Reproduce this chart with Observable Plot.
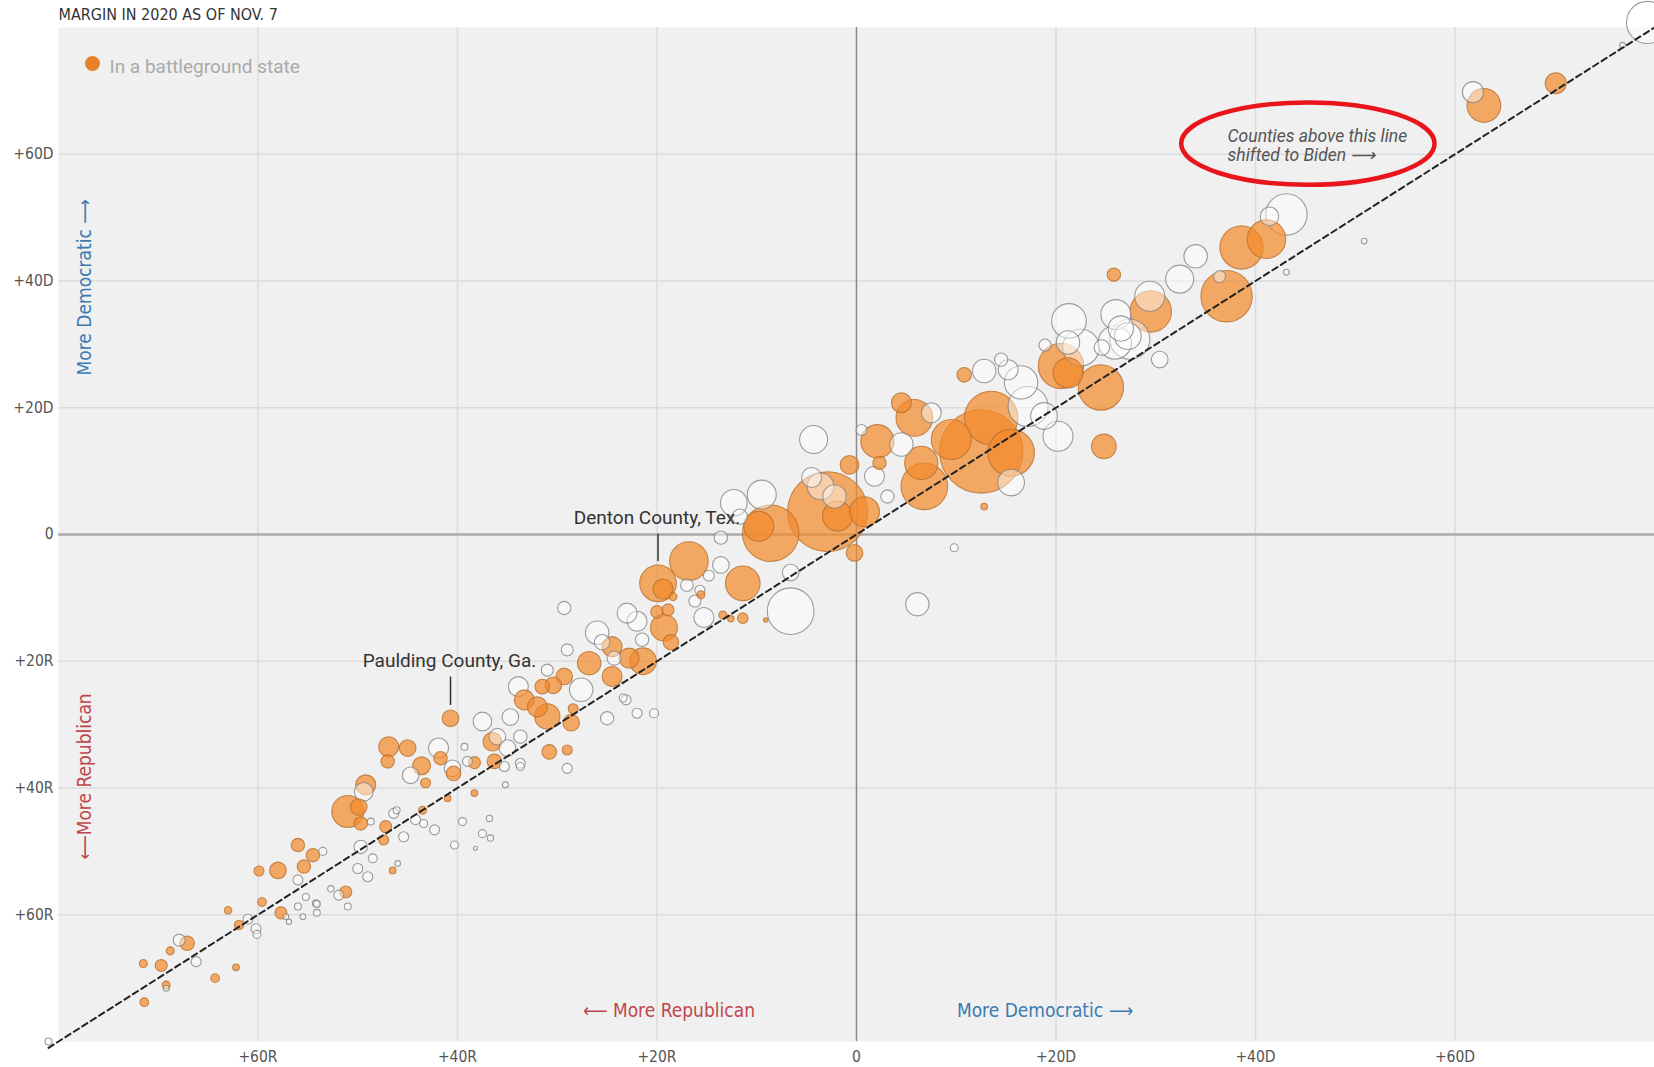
<!DOCTYPE html>
<html><head><meta charset="utf-8">
<script src="https://cdn.jsdelivr.net/npm/d3@7"></script>
<script src="https://cdn.jsdelivr.net/npm/@observablehq/plot@0.6"></script>
<style>
body{margin:0;background:#fff;}
#chart svg{display:block;}
</style></head><body><div id="chart"></div>
<script>
const title = "MARGIN IN 2020 AS OF NOV. 7";
const legendLabel = "In a battleground state";
const tickValues = [-60, -40, -20, 0, 20, 40, 60];
const xTickLabels = ["+60R", "+40R", "+20R", "0", "+20D", "+40D", "+60D"];
const yTickLabels = ["+60R", "+40R", "+20R", "0", "+20D", "+40D", "+60D"];

// Battleground-state counties: 2016 margin (x), 2020 margin (y), votes (thousands, approx.)
const bg2016 = [70.1,62.9,41.1,38.6,37.1,25.8,29.5,20.5,21.2,24.5,24.8,10.8,12.5,13.5,15.5,9.5,6.8,6.5,5.8,4.5,2.1,2.3,-0.7,-2.9,-1.9,0.8,-8.6,-9.8,-0.2,12.8,-19.9,-19.4,-16.8,-11.4,-15.6,-13.4,-11.4,-9.1,-18.9,-19.3,-20.0,-21.4,-24.5,-24.5,-26.8,-22.8,-18.6,-29.3,-31.5,-30.4,-33.3,-32.0,-31.0,-28.6,-28.4,-30.8,-29.0,-40.7,-36.5,-36.3,-38.3,-41.7,-40.4,-43.6,-38.3,-41.0,-43.5,-43.2,-46.9,-45.0,-47.0,-51.0,-49.9,-49.2,-49.7,-47.2,-47.4,-46.5,-51.2,-54.5,-55.4,-56.0,-58.0,-59.9,-59.6,-57.7,-61.9,-63.0,-67.1,-68.8,-69.7,-71.5,-62.2,-64.3,-69.2,-71.4,-12.6,-18.4];
const bg2020 = [71.2,67.7,46.6,45.3,37.6,41.0,35.2,26.6,25.5,23.2,13.9,25.2,13.1,18.4,12.9,15.0,7.6,11.3,18.4,20.8,14.7,11.3,11.0,3.6,2.9,3.6,0.2,1.3,-2.9,4.4,-7.7,-8.6,-4.2,-7.7,-9.5,-12.7,-13.2,-13.5,-11.9,-14.7,-12.2,-20.0,-17.7,-22.4,-20.3,-19.5,-17.0,-22.4,-24.0,-23.8,-26.1,-27.2,-28.7,-29.7,-27.5,-34.3,-34.0,-29.0,-32.7,-35.8,-36.0,-35.3,-37.7,-36.5,-40.8,-41.6,-43.5,-39.2,-33.5,-33.7,-35.8,-43.7,-43.0,-39.5,-45.6,-46.1,-48.2,-53.0,-56.4,-50.6,-52.4,-49.0,-53.0,-53.1,-58.0,-59.7,-61.6,-59.3,-64.5,-65.7,-68.0,-67.7,-68.3,-70.0,-71.1,-73.8,-13.3,-9.8];
const bgVotes = [111,285,373,470,660,45,428,514,225,514,152,53,1736,711,544,400,544,278,336,100,278,44,87,1600,225,225,800,225,69,11,336,100,373,300,16,16,28,5,36,180,40,178,100,100,137,100,60,69,53,69,100,100,160,69,25,53,25,69,87,53,36,45,53,80,11,11,16,25,100,69,45,256,69,100,45,36,25,11,36,45,45,45,69,25,19,36,22,14,53,16,36,16,11,19,16,19,10,16];

// Other counties
const other2016 = [79.3,76.8,61.8,43.1,41.4,50.9,43.1,36.4,34.0,32.4,26.0,21.3,27.4,26.5,30.4,22.5,18.9,29.4,24.6,20.2,16.5,17.2,12.8,15.2,14.5,18.8,15.5,9.8,6.1,4.5,1.8,-4.3,-9.5,-12.3,-11.7,-13.6,-13.6,-6.6,-6.6,-15.3,-15.7,-29.3,-26.0,-22.0,-23.0,-29.0,-27.6,-33.9,-34.7,-37.5,-36.0,-33.7,-35.0,-33.7,-41.9,-25.0,-23.1,-22.0,-20.3,-29.0,-31.0,-23.4,-39.3,-39.0,-35.3,-33.7,-35.2,-39.5,-37.5,-36.7,-36.8,-38.2,-40.3,-42.3,-44.2,-43.4,-46.4,-46.1,-48.7,-45.4,-46.0,-49.7,-49.0,-50.0,-48.5,-51.0,-51.9,-52.7,-53.5,-54.2,-55.2,-56.0,-54.1,-54.1,-56.0,-55.5,-57.2,-56.9,-44.7,-40.5,-49.4,-61.0,-60.2,-60.1,-66.2,-67.9,-69.2,-81.0,-3.6,-2.2,-4.5,3.1,7.5,21.2,25.9,27.2,0.5,-17.0,-14.8,-25.5,-24.3,-21.5,-16.2];
const other2020 = [80.8,77.2,69.8,50.5,50.2,46.3,41.4,40.7,43.9,40.3,34.7,33.7,30.8,32.5,27.6,29.5,29.9,37.6,29.5,15.5,24.0,20.2,25.8,26.0,27.6,18.7,8.2,-2.1,-11.0,14.2,9.2,15.0,6.3,5.0,2.8,-0.5,-4.8,-12.1,-6.0,-13.1,-8.8,-11.6,-15.5,-13.7,-12.4,-18.2,-24.5,-24.0,-28.8,-29.5,-31.9,-31.9,-33.7,-36.1,-33.7,-29.0,-26.1,-28.2,-28.2,-36.9,-21.4,-25.8,-33.5,-35.8,-36.6,-36.6,-39.5,-45.3,-47.2,-47.9,-44.8,-49.5,-49.0,-46.6,-45.0,-45.6,-44.0,-43.5,-45.3,-47.7,-51.9,-49.3,-54.0,-52.7,-51.1,-58.7,-56.9,-55.9,-50.0,-58.2,-57.2,-54.5,-58.3,-59.7,-58.7,-60.3,-60.3,-61.1,-38.0,-36.9,-40.6,-60.7,-62.2,-63.1,-67.4,-64.0,-71.6,-80.0,7.6,6.0,9.0,6.0,19.2,30.3,30.3,31.3,16.5,-8.0,-6.5,-17.0,-19.5,-16.6,-10.5];
const otherVotes = [444,8,111,428,87,8,8,36,137,196,225,300,400,160,69,336,36,225,60,225,278,400,137,100,44,178,178,16,135,137,100,196,210,178,60,44,69,544,69,100,25,44,137,100,100,36,137,100,69,87,69,45,69,25,100,44,25,25,20,25,36,16,12,25,25,16,9,16,16,10,10,4,16,25,25,16,25,12,12,25,8,45,25,25,20,12,25,10,16,12,12,25,12,12,12,8,8,7,69,69,87,25,25,16,25,36,9,12,178,137,100,44,100,137,278,178,30,40,30,60,50,45,36];

const diagonalEnds = [-81, 80];
const sideLabelText = ["\u27F5 More Republican", "More Democratic \u27F6"];
const sideLabelX = [-18.8, 18.9];
const sideLabelY = [-75.2, -75.2];
const vertLabelText = ["More Democratic \u27F6", "\u27F5More Republican"];
const vertLabelX = [-77.4, -77.4];
const vertLabelY = [39, -38.2];
const countyNames = ["Denton County, Tex.", "Paulding County, Ga."];
const countyLabelX = [-20, -40.8];
const countyLabelY = [2.65, -20];
const leaderX = [-19.9, -40.7];
const leaderTop = [0.1, -22.4];
const leaderBottom = [-4.2, -26.9];
const noteText = "Counties above this line\nshifted to Biden \u27F6";
const noteX = 37.2, noteY = 61.4;
const ellipseCenter = [45.3, 61.6];
const ellipseRadii = [12.7, 6.5];

const counties = [
  ...other2016.map((x, i) => ({m16: x, m20: other2020[i], votes: otherVotes[i], fill: "#ffffff", stroke: "#858585", fo: 0.45})),
  ...bg2016.map((x, i) => ({m16: x, m20: bg2020[i], votes: bgVotes[i], fill: "#f28a2c", stroke: "#b8702f", fo: 0.72}))
];

const narrow = "'Liberation Sans Narrow', 'DejaVu Sans Condensed', 'Arial Narrow', sans-serif";
const regular = "Roboto, 'Liberation Sans', sans-serif";

const chart = Plot.plot({
  width: 1654, height: 1067,
  marginLeft: 58, marginRight: 0, marginTop: 27, marginBottom: 26,
  x: {domain: [-80, 80]},
  y: {domain: [-80, 80]},
  r: {type: "sqrt", domain: [0, 1600], range: [0, 40]},
  color: {type: "identity"},
  opacity: {type: "identity"},
  style: {fontFamily: narrow, background: "#fff", overflow: "visible"},
  marks: [
    Plot.frame({fill: "#f0f0f0", stroke: "none"}),
    Plot.gridX(tickValues.filter(d => d !== 0), {stroke: "#dcdcdc", strokeOpacity: 1, strokeWidth: 1.5}),
    Plot.gridY(tickValues.filter(d => d !== 0), {stroke: "#dcdcdc", strokeOpacity: 1, strokeWidth: 1.5}),
    Plot.ruleY([0], {stroke: "#ababab", strokeWidth: 2.5}),
    Plot.ruleX([0], {stroke: "#8a8a8a", strokeWidth: 1.5}),
    Plot.axisX(tickValues, {tickSize: 0, tickPadding: 9, fontSize: 15.5, fill: "#555", label: null,
      tickFormat: d => xTickLabels[tickValues.indexOf(d)]}),
    Plot.axisY(tickValues, {tickSize: 0, tickPadding: 5, fontSize: 15.5, fill: "#555", label: null,
      tickFormat: d => yTickLabels[tickValues.indexOf(d)]}),
    Plot.text([title], {frameAnchor: "top-left", dy: -19, textAnchor: "start", fontSize: 16, fill: "#333"}),
    Plot.dot([legendLabel], {frameAnchor: "top-left", dx: 34, dy: 36, r: 7.5, fill: "#e8822a"}),
    Plot.text([legendLabel], {frameAnchor: "top-left", dx: 51, dy: 32, textAnchor: "start", fontSize: 19, fill: "#aaa", fontFamily: regular}),
    Plot.text(sideLabelText, {x: (d, i) => sideLabelX[i], y: (d, i) => sideLabelY[i], text: d => d,
      fill: (d, i) => i === 0 ? "#c0464b" : "#3b7bb0", fontSize: 19}),
    Plot.text(vertLabelText, {x: (d, i) => vertLabelX[i], y: (d, i) => vertLabelY[i], text: d => d, rotate: -90,
      fill: (d, i) => i === 0 ? "#3b7bb0" : "#c0464b", fontSize: 19}),
    Plot.dot(counties, {x: "m16", y: "m20", r: "votes", fill: "fill", stroke: "stroke",
      fillOpacity: "fo", strokeOpacity: 0.8, strokeWidth: 1.1}),
    Plot.line(diagonalEnds, {x: d => d, y: d => d, stroke: "#222", strokeWidth: 2, strokeDasharray: "6,4"}),
    Plot.link(countyNames, {x1: (d, i) => leaderX[i], x2: (d, i) => leaderX[i], y1: (d, i) => leaderTop[i], y2: (d, i) => leaderBottom[i],
      stroke: "#333", strokeWidth: 1.5}),
    Plot.text(countyNames, {x: (d, i) => countyLabelX[i], y: (d, i) => countyLabelY[i], text: d => d,
      fontSize: 19, fill: "#333", fontFamily: regular}),
    Plot.text([noteText], {x: () => noteX, y: () => noteY, text: d => d, textAnchor: "start", fontSize: 17.5,
      fontStyle: "italic", fill: "#555", fontFamily: regular, lineHeight: 1.1})
  ]
});

const sx = chart.scale("x"), sy = chart.scale("y");
d3.select(chart).append("ellipse")
  .attr("cx", sx.apply(ellipseCenter[0]))
  .attr("cy", sy.apply(ellipseCenter[1]))
  .attr("rx", sx.apply(ellipseCenter[0] + ellipseRadii[0]) - sx.apply(ellipseCenter[0]))
  .attr("ry", sy.apply(ellipseCenter[1]) - sy.apply(ellipseCenter[1] + ellipseRadii[1]))
  .attr("fill", "none").attr("stroke", "#e8161c").attr("stroke-width", 4.5);

document.getElementById("chart").appendChild(chart);
</script></body></html>
